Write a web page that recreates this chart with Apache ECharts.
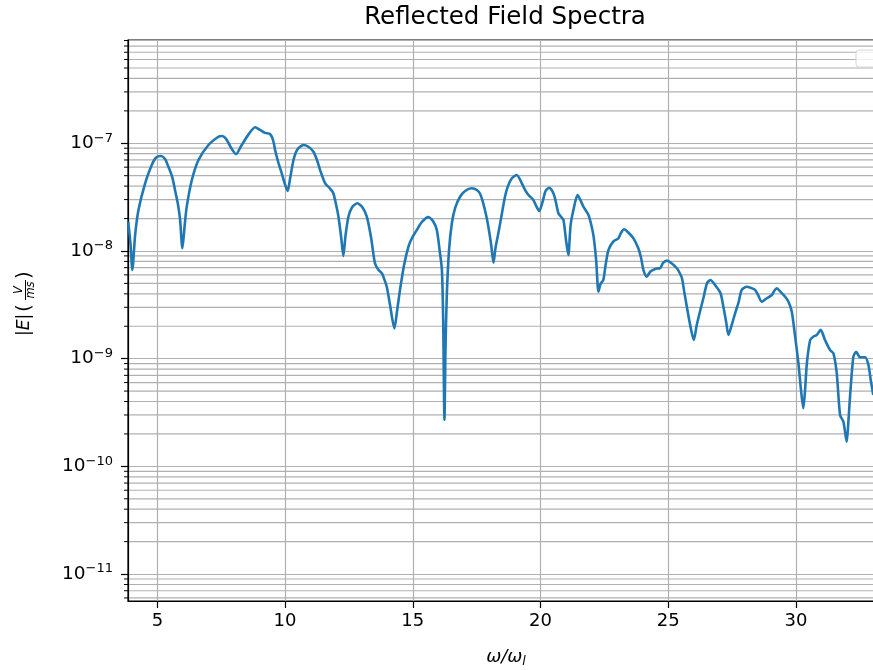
<!DOCTYPE html>
<html>
<head>
<meta charset="utf-8">
<script src="https://cdn.jsdelivr.net/npm/echarts@6/dist/echarts.min.js"></script>
<style>
html, body { margin: 0; padding: 0; background: #fff; overflow: hidden; }
#main { width: 873px; height: 670px; }
</style>
</head>
<body>
<div id="main"></div>
<script>
// 频率 ω/ω_l
var omega = [
	3.86, 3.95, 4.02, 4.13, 4.26, 4.52, 4.78, 4.95, 5.14, 5.30,
	5.43, 5.58, 5.69, 5.81, 5.89, 5.98, 6.07, 6.15, 6.35, 6.61,
	7.00, 7.39, 7.52, 7.69, 7.89, 8.08, 8.28, 8.55, 8.83, 9.02,
	9.22, 9.41, 9.53, 9.61, 9.73, 9.87, 9.98, 10.10, 10.20, 10.33,
	10.47, 10.72, 10.90, 11.11, 11.25, 11.37, 11.57, 11.76, 11.89, 12.00,
	12.09, 12.20, 12.28, 12.37, 12.48, 12.63, 12.83, 13.02, 13.20, 13.37,
	13.52, 13.66, 13.79, 13.88, 13.98, 14.11, 14.28, 14.39, 14.50, 14.66,
	14.83, 14.97, 15.16, 15.36, 15.61, 15.79, 15.94, 16.05, 16.14, 16.19,
	16.24, 16.28, 16.33, 16.42, 16.53, 16.66, 16.85, 17.05, 17.31, 17.51,
	17.64, 17.76, 17.87, 17.96, 18.07, 18.16, 18.24, 18.35, 18.48, 18.61,
	18.73, 18.88, 19.07, 19.27, 19.40, 19.53, 19.72, 19.83, 19.95, 20.07,
	20.20, 20.34, 20.46, 20.57, 20.70, 20.81, 20.90, 21.00, 21.09, 21.18,
	21.29, 21.45, 21.56, 21.68, 21.88, 21.99, 22.08, 22.18, 22.27, 22.35,
	22.46, 22.55, 22.66, 22.85, 23.05, 23.15, 23.27, 23.42, 23.64, 23.83,
	23.94, 24.03, 24.16, 24.29, 24.42, 24.55, 24.68, 24.80, 24.95, 25.12,
	25.34, 25.43, 25.54, 25.63, 25.73, 25.86, 26.00, 26.12, 26.26, 26.39,
	26.52, 26.65, 26.85, 27.05, 27.16, 27.27, 27.36, 27.49, 27.62, 27.76,
	27.88, 28.08, 28.25, 28.40, 28.52, 28.66, 28.86, 29.06, 29.15, 29.25,
	29.42, 29.58, 29.71, 29.84, 29.97, 30.10, 30.20, 30.29, 30.36, 30.43,
	30.56, 30.68, 30.82, 30.97, 31.14, 31.34, 31.47, 31.60, 31.73, 31.86,
	31.99, 32.06, 32.12, 32.25, 32.36, 32.51, 32.71, 32.84, 32.93, 33.03
];
// 反射场 |E|
var field = [
	1.87e-8, 1.14e-8, 6.67e-9, 1.41e-8, 2.40e-8, 4.25e-8, 6.29e-8, 7.38e-8, 7.62e-8, 7.15e-8,
	6.07e-8, 4.87e-8, 3.68e-8, 2.67e-8, 1.94e-8, 1.06e-8, 1.74e-8, 2.58e-8, 4.56e-8, 7.00e-8,
	9.64e-8, 1.15e-7, 1.17e-7, 1.10e-7, 9.04e-8, 7.91e-8, 9.44e-8, 1.19e-7, 1.41e-7, 1.33e-7,
	1.25e-7, 1.22e-7, 1.07e-7, 8.67e-8, 6.70e-8, 5.26e-8, 4.28e-8, 3.61e-8, 4.76e-8, 7.00e-8,
	8.67e-8, 9.64e-8, 9.33e-8, 8.36e-8, 7.00e-8, 5.65e-8, 4.25e-8, 3.80e-8, 3.44e-8, 2.67e-8,
	2.08e-8, 1.32e-8, 8.99e-9, 1.41e-8, 2.08e-8, 2.56e-8, 2.77e-8, 2.56e-8, 2.08e-8, 1.32e-8,
	7.69e-9, 6.67e-9, 6.21e-9, 5.50e-9, 4.67e-9, 3.15e-9, 1.91e-9, 2.83e-9, 4.35e-9, 7.41e-9,
	1.10e-8, 1.32e-8, 1.57e-8, 1.86e-8, 2.06e-8, 1.90e-8, 1.57e-8, 1.02e-8, 6.67e-9, 2.29e-9,
	2.70e-10, 1.20e-9, 3.76e-9, 1.02e-8, 1.81e-8, 2.51e-8, 3.19e-8, 3.61e-8, 3.82e-8, 3.68e-8,
	3.38e-8, 2.77e-8, 2.16e-8, 1.68e-8, 1.14e-8, 7.78e-9, 1.07e-8, 1.46e-8, 2.16e-8, 3.19e-8,
	4.02e-8, 4.73e-8, 5.08e-8, 4.25e-8, 3.68e-8, 3.31e-8, 2.98e-8, 2.62e-8, 2.35e-8, 2.79e-8,
	3.61e-8, 3.87e-8, 3.61e-8, 3.08e-8, 2.24e-8, 2.07e-8, 1.94e-8, 1.26e-8, 9.18e-9, 1.74e-8,
	2.40e-8, 3.31e-8, 2.98e-8, 2.58e-8, 2.16e-8, 1.74e-8, 1.36e-8, 8.24e-9, 4.19e-9, 4.94e-9,
	5.38e-9, 7.41e-9, 1.02e-8, 1.22e-8, 1.31e-8, 1.47e-8, 1.59e-8, 1.50e-8, 1.31e-8, 1.06e-8,
	8.61e-9, 6.67e-9, 5.77e-9, 6.38e-9, 6.67e-9, 6.88e-9, 6.91e-9, 7.74e-9, 8.13e-9, 7.74e-9,
	6.91e-9, 6.38e-9, 5.58e-9, 4.16e-9, 3.04e-9, 2.06e-9, 1.49e-9, 2.06e-9, 2.83e-9, 3.74e-9,
	5.01e-9, 5.38e-9, 4.78e-9, 4.05e-9, 3.04e-9, 2.19e-9, 1.66e-9, 2.06e-9, 2.64e-9, 3.36e-9,
	4.35e-9, 4.66e-9, 4.53e-9, 4.35e-9, 3.90e-9, 3.38e-9, 3.64e-9, 3.90e-9, 4.25e-9, 4.51e-9,
	4.12e-9, 3.76e-9, 3.38e-9, 2.73e-9, 1.60e-9, 9.06e-10, 5.12e-10, 3.46e-10, 5.12e-10, 9.06e-10,
	1.49e-9, 1.60e-9, 1.66e-9, 1.85e-9, 1.49e-9, 1.20e-9, 1.12e-9, 7.31e-10, 3.00e-10, 2.60e-10,
	1.69e-10, 2.70e-10, 4.44e-10, 1.04e-9, 1.16e-9, 1.03e-9, 1.03e-9, 8.73e-10, 6.34e-10, 4.60e-10
];

// 坐标范围
var xMin = 3.85, xMax = 33.45;
var yMin = 5.62e-12, yMax = 9.1e-7;
var xTicks = [5, 10, 15, 20, 25, 30];
var yTicks = [1e-11, 1e-10, 1e-9, 1e-8, 1e-7];

// 次刻度 2..9 x 10^n
var minorTicks = [];
for (var d = -12; d <= -7; d++) {
	for (var m = 2; m <= 9; m++) {
		var v = m * Math.pow(10, d);
		if (v > yMin && v < yMax) minorTicks.push([xMin, v]);
	}
}

var seriesData = [];
for (var i = 0; i < omega.length; i++) {
	seriesData.push([omega[i], field[i]]);
}

var font = '"DejaVu Sans", Verdana, sans-serif';
var gridColor = '#b0b0b0';

var chart = echarts.init(document.getElementById('main'), null, { renderer: 'canvas' });
chart.setOption({
	animation : false,
	grid : {
		left : 128,
		top : 40,
		width : 756,
		height : 561,
		outerBoundsMode : 'none',
		containLabel : false,
		show : true,
		borderColor : '#000',
		borderWidth : 1.2,
		backgroundColor : 'transparent'
	},
	xAxis : {
		type : 'value',
		min : xMin,
		max : xMax,
		axisLine : { lineStyle : { color : '#000', width : 1.2 } },
		axisTick : { length : 7, lineStyle : { color : '#000', width : 1.2 }, customValues : xTicks },
		axisLabel : {
			customValues : xTicks,
			margin : 11,
			color : '#000',
			fontSize : 18,
			fontFamily : font
		},
		splitLine : { show : true, lineStyle : { color : gridColor, width : 1.2 } },
		name : '{a|ω/ω}{s|l}',
		nameLocation : 'middle',
		nameGap : 46,
		nameTextStyle : {
			rich : {
				a : { fontSize : 18, fontStyle : 'italic', fontFamily : font, color : '#000' },
				s : { fontSize : 12.5, fontStyle : 'italic', fontFamily : font, color : '#000', padding : [ 8, 0, 0, 0 ] }
			}
		}
	},
	yAxis : {
		type : 'log',
		logBase : 10,
		min : yMin,
		max : yMax,
		axisLine : { show : true, lineStyle : { color : '#000', width : 1.2 } },
		axisTick : { show : true, length : 7, lineStyle : { color : '#000', width : 1.2 }, customValues : yTicks },
		axisLabel : {
			customValues : yTicks,
			margin : 15,
			formatter : function(val) {
				var e = Math.round(Math.log(val) / Math.LN10);
				return '{b|10}{s|\u2212' + Math.abs(e) + '}';
			},
			rich : {
				b : { fontSize : 18.5, fontFamily : font, color : '#000' },
				s : { fontSize : 13, fontFamily : font, color : '#000', padding : [ 0, 0, 10, 0 ] }
			}
		},
		splitLine : { show : true, lineStyle : { color : gridColor, width : 1.2 } }
	},
	series : [ {
		// 次网格线与次刻度
		type : 'custom',
		silent : true,
		z : 1,
		clip : false,
		data : minorTicks,
		encode : { x : 0, y : 1 },
		renderItem : function(params, api) {
			var p0 = api.coord([ xMin, api.value(1) ]);
			var p1 = api.coord([ xMax, api.value(1) ]);
			return {
				type : 'group',
				children : [ {
					type : 'line',
					shape : { x1 : p0[0] - 4, y1 : p0[1], x2 : p0[0], y2 : p0[1] },
					style : { stroke : '#000', lineWidth : 1 }
				}, {
					type : 'line',
					shape : { x1 : p0[0] + 1, y1 : p0[1], x2 : p1[0], y2 : p1[1] },
					style : { stroke : gridColor, lineWidth : 1.2 }
				} ]
			};
		}
	}, {
		name : 'spectrum',
		type : 'line',
		z : 3,
		data : seriesData,
		showSymbol : false,
		smooth : 0.25,
		lineStyle : { color : '#1f77b4', width : 2.6 }
	} ],
	graphic : [ {
		type : 'text',
		x : 505,
		y : 18,
		style : {
			text : 'Reflected Field Spectra',
			font : '24.5px ' + font,
			fill : '#000',
			align : 'center',
			verticalAlign : 'middle'
		}
	}, {
		// 纵轴标题 |E|(V/ms)
		type : 'group',
		x : 25,
		y : 302,
		rotation : Math.PI / 2,
		children : [ {
			type : 'text', x : -34, y : 0,
			style : { text : '|E|', font : 'italic 17px ' + font, fill : '#000', align : 'left', verticalAlign : 'middle' }
		}, {
			type : 'text', x : -10, y : 0,
			style : { text : '(', font : '20px ' + font, fill : '#000', align : 'left', verticalAlign : 'middle' }
		}, {
			type : 'text', x : 12, y : -6,
			style : { text : 'V', font : 'italic 11.5px ' + font, fill : '#000', align : 'center', verticalAlign : 'middle' }
		}, {
			type : 'line',
			shape : { x1 : 2, y1 : 0.5, x2 : 22, y2 : 0.5 },
			style : { stroke : '#000', lineWidth : 1 }
		}, {
			type : 'text', x : 12, y : 6,
			style : { text : 'ms', font : 'italic 11.5px ' + font, fill : '#000', align : 'center', verticalAlign : 'middle' }
		}, {
			type : 'text', x : 23, y : 0,
			style : { text : ')', font : '20px ' + font, fill : '#000', align : 'left', verticalAlign : 'middle' }
		} ]
	}, {
		// 空图例框
		type : 'rect',
		shape : { x : 856, y : 50, width : 26, height : 17, r : 3 },
		style : { fill : 'rgba(255,255,255,0.8)', stroke : '#d6d6d6', lineWidth : 1 },
		z : 10
	} ]
});
</script>
</body>
</html>
